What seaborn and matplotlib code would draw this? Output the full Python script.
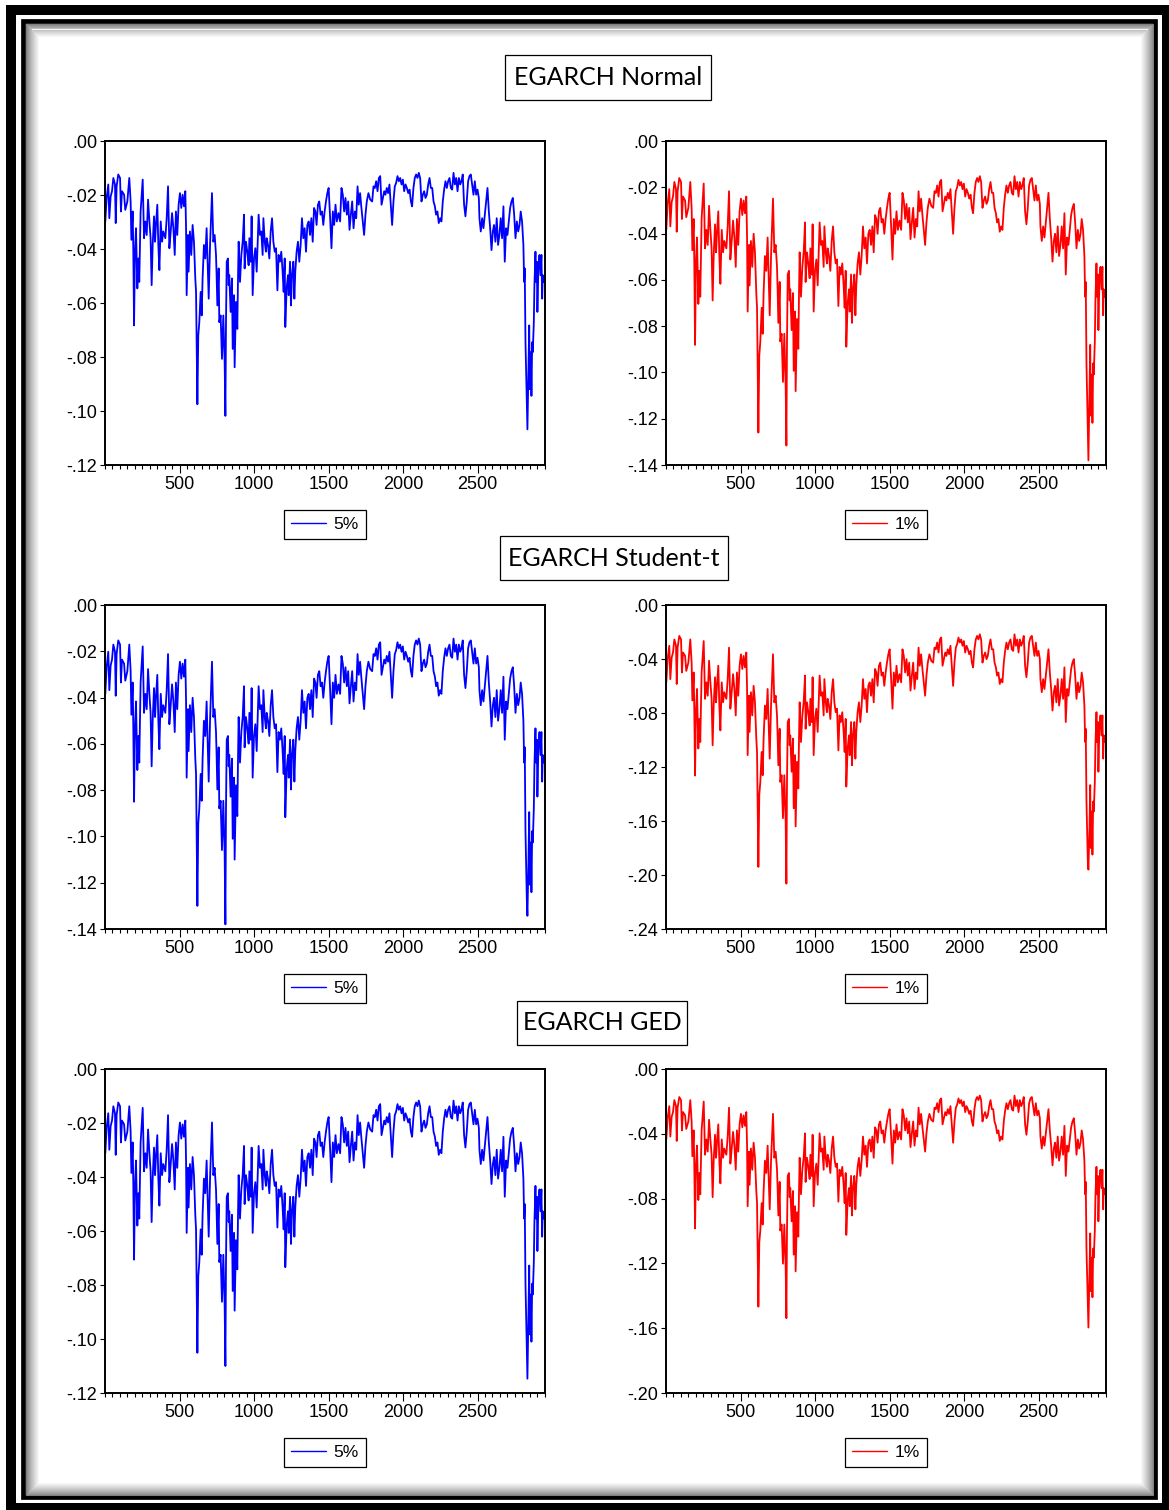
import numpy as np
import pandas as pd
import matplotlib
matplotlib.use("Agg")
import matplotlib.pyplot as plt
from matplotlib.patches import Rectangle
from matplotlib.ticker import FixedLocator, MultipleLocator, FuncFormatter
import seaborn as sns

# Observation index of each sampled point
obs = [
    2, 11, 22, 29, 38, 47, 56, 67, 72, 78,
    89, 101, 107, 114, 128, 136, 150, 163, 172, 177,
    186, 190, 195, 201, 208, 217, 224, 230, 239, 253,
    262, 271, 280, 289, 298, 306, 313, 320, 329, 336,
    342, 351, 358, 365, 374, 383, 391, 405, 414, 423,
    432, 441, 450, 459, 468, 476, 485, 494, 503, 512,
    521, 530, 539, 544, 548, 557, 561, 570, 579, 588,
    597, 606, 611, 615, 620, 626, 633, 642, 649, 655,
    664, 673, 682, 689, 696, 705, 718, 727, 736, 745,
    749, 754, 763, 767, 776, 785, 794, 803, 808, 812,
    817, 825, 830, 834, 843, 852, 857, 866, 870, 879,
    888, 893, 897, 906, 915, 924, 933, 937, 946, 955,
    964, 969, 978, 984, 991, 1000, 1009, 1018, 1027, 1031,
    1040, 1049, 1058, 1063, 1072, 1080, 1085, 1094, 1103, 1112,
    1121, 1130, 1139, 1148, 1157, 1165, 1174, 1183, 1192, 1199,
    1206, 1210, 1219, 1228, 1233, 1242, 1248, 1255, 1264, 1271,
    1277, 1286, 1295, 1304, 1313, 1322, 1331, 1340, 1349, 1358,
    1367, 1376, 1385, 1394, 1403, 1412, 1420, 1429, 1438, 1447,
    1456, 1465, 1474, 1483, 1492, 1501,
    1511, 1520, 1529, 1538, 1547, 1556, 1567, 1578, 1587, 1596,
    1605, 1614, 1623, 1632, 1641, 1650, 1659, 1668, 1677, 1686,
    1695, 1703, 1712, 1721, 1730, 1739, 1748, 1757, 1768, 1780,
    1793, 1802, 1811, 1820, 1829, 1838, 1847, 1856, 1865, 1874,
    1882, 1891, 1900, 1909, 1918, 1927, 1936, 1945, 1954, 1963,
    1972, 1981, 1990, 1999, 2008, 2017, 2026, 2035, 2044, 2053,
    2061, 2070, 2079, 2088, 2097, 2106, 2115, 2124, 2133, 2142,
    2151, 2160, 2169, 2178, 2187, 2196, 2205, 2214, 2222, 2231,
    2240, 2249, 2258, 2267, 2276, 2285, 2294, 2303, 2312, 2321,
    2330, 2339, 2348, 2357, 2366, 2375, 2384, 2392, 2401, 2410,
    2419, 2428, 2437, 2446, 2455, 2464, 2473, 2482, 2491, 2500,
    2509, 2513, 2522, 2531, 2540, 2549, 2558, 2567, 2576, 2585,
    2594, 2603, 2611, 2620, 2629, 2638, 2647, 2656, 2665, 2674,
    2683, 2692, 2701, 2710, 2719, 2728, 2737, 2746, 2755, 2764,
    2773, 2782, 2790, 2799, 2808, 2813, 2817, 2822, 2826, 2831,
    2835, 2842, 2847, 2851, 2858, 2862, 2867, 2871, 2878, 2882,
    2889, 2893, 2898, 2902, 2909, 2916, 2923, 2929, 2934, 2938,
    2945,
]

# Value-at-Risk forecasts, in basis points of return
normal_5 = [
    -298, -211, -161, -286, -205, -186, -137, -161, -304, -168,
    -124, -137, -261, -186, -199, -255, -224, -137, -224, -366,
    -261, -410, -683, -410, -323, -546, -435, -522, -261, -143,
    -360, -298, -348, -217, -298, -360, -534, -385, -279, -373,
    -311, -236, -385, -478, -298, -373, -335, -360, -286, -168,
    -397, -335, -267, -323, -422, -261, -348, -236, -193, -248,
    -199, -242, -186, -323, -571, -348, -484, -335, -422, -311,
    -373, -509, -559, -745, -975, -720, -671, -559, -646, -509,
    -385, -435, -323, -460, -584, -385, -193, -373, -348, -422,
    -497, -609, -472, -671, -646, -807, -646, -820, -1018, -671,
    -447, -435, -534, -497, -633, -509, -770, -571, -838, -596,
    -696, -497, -373, -522, -422, -373, -273, -472, -373, -410,
    -460, -360, -447, -279, -571, -435, -397, -484, -335, -273,
    -348, -335, -422, -286, -373, -410, -360, -385, -435, -335,
    -286, -373, -410, -397, -553, -422, -447, -410, -484, -559,
    -435, -689, -546, -497, -571, -447, -609, -497, -447, -584,
    -484, -410, -373, -447, -385, -286, -360, -323, -410, -311,
    -298, -348, -286, -373, -248, -261, -311, -236, -224, -273,
    -261, -311, -261, -224, -193, -174,
    -286, -397, -261, -311, -236, -298, -267, -298, -174, -199,
    -261, -211, -273, -224, -329, -273, -224, -323, -261, -286,
    -168, -236, -193, -248, -298, -348, -273, -224, -193, -217,
    -224, -168, -174, -149, -186, -137, -130, -236, -211, -186,
    -199, -174, -193, -161, -236, -311, -224, -168, -155, -130,
    -149, -137, -161, -143, -186, -161, -174, -193, -180, -224,
    -242, -174, -137, -124, -137, -118, -137, -224, -199, -186,
    -211, -199, -161, -137, -174, -174, -224, -242, -273, -261,
    -304, -286, -298, -224, -180, -149, -174, -149, -137, -174,
    -180, -118, -161, -137, -186, -137, -161, -149, -124, -236,
    -279, -224, -149, -130, -124, -161, -199, -149, -199, -180,
    -211, -286, -335, -286, -323, -273, -224, -174, -261, -323,
    -404, -335, -311, -373, -286, -385, -348, -286, -360, -242,
    -447, -323, -348, -298, -248, -224, -211, -273, -360, -298,
    -335, -311, -261, -298, -385, -522, -472, -745, -845, -969,
    -1068, -845, -683, -919, -782, -944, -745, -782, -671, -534,
    -410, -522, -447, -633, -460, -422, -497, -422, -584, -497,
    -522,
]

normal_1 = [
    -384, -272, -208, -369, -264, -240, -177, -208, -392, -217,
    -160, -177, -337, -240, -257, -329, -289, -177, -289, -472,
    -337, -529, -881, -529, -417, -704, -561, -673, -337, -184,
    -464, -384, -449, -280, -384, -464, -689, -497, -360, -481,
    -401, -304, -497, -617, -384, -481, -432, -464, -369, -217,
    -512, -432, -344, -417, -544, -337, -449, -304, -249, -320,
    -257, -312, -240, -417, -737, -449, -624, -432, -544, -401,
    -481, -657, -721, -961, -1260, -929, -866, -721, -833, -657,
    -497, -561, -417, -593, -753, -497, -249, -481, -449, -544,
    -641, -786, -609, -866, -833, -1041, -833, -1058, -1316, -866,
    -577, -561, -689, -641, -817, -657, -993, -737, -1081, -769,
    -898, -641, -481, -673, -544, -481, -352, -609, -481, -529,
    -593, -464, -577, -360, -737, -561, -512, -624, -432, -352,
    -449, -432, -544, -369, -481, -529, -464, -497, -561, -432,
    -369, -481, -529, -512, -713, -544, -577, -529, -624, -721,
    -561, -889, -704, -641, -737, -577, -786, -641, -577, -753,
    -624, -529, -481, -577, -497, -369, -464, -417, -529, -401,
    -384, -449, -369, -481, -320, -337, -401, -304, -289, -352,
    -337, -401, -337, -289, -249, -224,
    -369, -512, -337, -401, -304, -384, -344, -384, -224, -257,
    -337, -272, -352, -289, -424, -352, -289, -417, -337, -369,
    -217, -304, -249, -320, -384, -449, -352, -289, -249, -280,
    -289, -217, -224, -192, -240, -177, -168, -304, -272, -240,
    -257, -224, -249, -208, -304, -401, -289, -217, -200, -168,
    -192, -177, -208, -184, -240, -208, -224, -249, -232, -289,
    -312, -224, -177, -160, -177, -152, -177, -289, -257, -240,
    -272, -257, -208, -177, -224, -224, -289, -312, -352, -337,
    -392, -369, -384, -289, -232, -192, -224, -192, -177, -224,
    -232, -152, -208, -177, -240, -177, -208, -192, -160, -304,
    -360, -289, -192, -168, -160, -208, -257, -192, -257, -232,
    -272, -369, -432, -369, -417, -352, -289, -224, -337, -417,
    -521, -432, -401, -481, -369, -497, -449, -369, -464, -312,
    -577, -417, -449, -384, -320, -289, -272, -352, -464, -384,
    -432, -401, -337, -384, -497, -673, -609, -961, -1090, -1250,
    -1380, -1090, -881, -1186, -1009, -1218, -961, -1009, -866, -689,
    -529, -673, -577, -817, -593, -544, -641, -544, -753, -641,
    -673,
]

student_5 = [
    -384, -269, -202, -368, -261, -236, -171, -202, -392, -212,
    -153, -171, -335, -236, -253, -327, -286, -171, -286, -474,
    -335, -533, -850, -533, -417, -713, -566, -681, -335, -179,
    -466, -384, -450, -277, -384, -466, -697, -500, -359, -484,
    -401, -302, -500, -623, -384, -484, -433, -466, -368, -212,
    -515, -433, -343, -417, -549, -335, -450, -302, -245, -318,
    -253, -310, -236, -417, -746, -450, -631, -433, -549, -401,
    -484, -664, -730, -977, -1300, -944, -879, -730, -846, -664,
    -500, -566, -417, -599, -763, -500, -245, -484, -450, -549,
    -648, -797, -615, -879, -846, -1059, -846, -1076, -1380, -879,
    -582, -566, -697, -648, -828, -664, -1010, -746, -1100, -779,
    -912, -648, -484, -681, -549, -484, -351, -615, -484, -533,
    -599, -466, -582, -359, -746, -566, -515, -631, -433, -351,
    -450, -433, -549, -368, -484, -533, -466, -500, -566, -433,
    -368, -484, -533, -515, -722, -549, -582, -533, -631, -730,
    -566, -917, -713, -648, -746, -582, -797, -648, -582, -763,
    -631, -533, -484, -582, -500, -368, -466, -417, -533, -401,
    -384, -450, -368, -484, -318, -335, -401, -302, -286, -351,
    -335, -401, -335, -286, -245, -220,
    -368, -515, -335, -401, -302, -384, -343, -384, -220, -253,
    -335, -269, -351, -286, -425, -351, -286, -417, -335, -368,
    -212, -302, -245, -318, -384, -450, -351, -286, -245, -277,
    -286, -212, -220, -187, -236, -171, -161, -302, -269, -236,
    -253, -220, -245, -202, -302, -401, -286, -212, -195, -161,
    -187, -171, -202, -179, -236, -202, -220, -245, -228, -286,
    -310, -220, -171, -153, -171, -145, -171, -286, -253, -236,
    -269, -253, -202, -171, -220, -220, -286, -310, -351, -335,
    -392, -368, -384, -286, -228, -187, -220, -187, -171, -220,
    -228, -145, -202, -171, -236, -171, -202, -187, -153, -302,
    -359, -286, -187, -161, -153, -202, -253, -187, -253, -228,
    -269, -368, -433, -368, -417, -351, -286, -220, -335, -417,
    -525, -433, -401, -484, -368, -500, -450, -368, -466, -310,
    -582, -417, -450, -384, -318, -286, -269, -351, -466, -384,
    -433, -401, -335, -384, -500, -681, -615, -977, -1109, -1274,
    -1343, -1109, -895, -1208, -1026, -1241, -977, -1026, -879, -697,
    -533, -681, -582, -828, -599, -549, -648, -549, -763, -648,
    -681,
]

student_1 = [
    -573, -401, -302, -549, -389, -352, -255, -302, -585, -316,
    -229, -255, -500, -352, -377, -488, -427, -255, -427, -707,
    -500, -794, -1263, -794, -622, -1063, -844, -1015, -500, -267,
    -695, -573, -672, -413, -573, -695, -1039, -745, -535, -721,
    -599, -450, -745, -929, -573, -721, -646, -695, -549, -316,
    -768, -646, -512, -622, -818, -500, -672, -450, -365, -474,
    -377, -462, -352, -622, -1112, -672, -940, -646, -818, -599,
    -721, -990, -1089, -1456, -1940, -1407, -1310, -1089, -1261, -990,
    -745, -844, -622, -893, -1138, -745, -365, -721, -672, -818,
    -966, -1187, -917, -1310, -1261, -1579, -1261, -1604, -2064, -1310,
    -867, -844, -1039, -966, -1235, -990, -1506, -1112, -1640, -1162,
    -1359, -966, -721, -1015, -818, -721, -523, -917, -721, -794,
    -893, -695, -867, -535, -1112, -844, -768, -940, -646, -523,
    -672, -646, -818, -549, -721, -794, -695, -745, -844, -646,
    -549, -721, -794, -768, -1077, -818, -867, -794, -940, -1089,
    -844, -1345, -1063, -966, -1112, -867, -1187, -966, -867, -1138,
    -940, -794, -721, -867, -745, -549, -695, -622, -794, -599,
    -573, -672, -549, -721, -474, -500, -599, -450, -427, -523,
    -500, -599, -500, -427, -365, -328,
    -549, -768, -500, -599, -450, -573, -512, -573, -328, -377,
    -500, -401, -523, -427, -634, -523, -427, -622, -500, -549,
    -316, -450, -365, -474, -573, -672, -523, -427, -365, -413,
    -427, -316, -328, -278, -352, -255, -241, -450, -401, -352,
    -377, -328, -365, -302, -450, -599, -427, -316, -290, -241,
    -278, -255, -302, -267, -352, -302, -328, -365, -340, -427,
    -462, -328, -255, -229, -255, -217, -255, -427, -377, -352,
    -401, -377, -302, -255, -328, -328, -427, -462, -523, -500,
    -585, -549, -573, -427, -340, -278, -328, -278, -255, -328,
    -340, -217, -302, -255, -352, -255, -302, -278, -229, -450,
    -535, -427, -278, -241, -229, -302, -377, -278, -377, -340,
    -401, -549, -646, -549, -622, -523, -427, -328, -500, -622,
    -782, -646, -599, -721, -549, -745, -672, -549, -695, -462,
    -867, -622, -672, -573, -474, -427, -401, -523, -695, -573,
    -646, -599, -500, -573, -745, -1015, -917, -1456, -1654, -1899,
    -1960, -1654, -1334, -1800, -1529, -1849, -1456, -1529, -1310, -1039,
    -794, -1015, -867, -1235, -893, -818, -966, -818, -1138, -966,
    -1015,
]

ged_5 = [
    -312, -218, -164, -299, -211, -191, -138, -164, -318, -171,
    -124, -138, -272, -191, -205, -265, -232, -138, -232, -385,
    -272, -433, -706, -433, -339, -580, -460, -554, -272, -144,
    -379, -312, -366, -224, -312, -379, -567, -406, -291, -393,
    -326, -245, -406, -506, -312, -393, -352, -379, -299, -171,
    -419, -352, -278, -339, -446, -272, -366, -245, -198, -258,
    -205, -251, -191, -339, -607, -366, -513, -352, -446, -326,
    -393, -540, -594, -795, -1051, -768, -715, -594, -688, -540,
    -406, -460, -339, -487, -621, -406, -198, -393, -366, -446,
    -527, -648, -500, -715, -688, -862, -688, -876, -1100, -715,
    -473, -460, -567, -527, -674, -540, -822, -607, -895, -634,
    -742, -527, -393, -554, -446, -393, -285, -500, -393, -433,
    -487, -379, -473, -291, -607, -460, -419, -513, -352, -285,
    -366, -352, -446, -299, -393, -433, -379, -406, -460, -352,
    -299, -393, -433, -419, -587, -446, -473, -433, -513, -594,
    -460, -734, -580, -527, -607, -473, -648, -527, -473, -621,
    -513, -433, -393, -473, -406, -299, -379, -339, -433, -326,
    -312, -366, -299, -393, -258, -272, -326, -245, -232, -285,
    -272, -326, -272, -232, -198, -178,
    -299, -419, -272, -326, -245, -312, -278, -312, -178, -205,
    -272, -218, -285, -232, -345, -285, -232, -339, -272, -299,
    -171, -245, -198, -258, -312, -366, -285, -232, -198, -224,
    -232, -171, -178, -151, -191, -138, -130, -245, -218, -191,
    -205, -178, -198, -164, -245, -326, -232, -171, -157, -130,
    -151, -138, -164, -144, -191, -164, -178, -198, -184, -232,
    -251, -178, -138, -124, -138, -117, -138, -232, -205, -191,
    -218, -205, -164, -138, -178, -178, -232, -251, -285, -272,
    -318, -299, -312, -232, -184, -151, -178, -151, -138, -178,
    -184, -117, -164, -138, -191, -138, -164, -151, -124, -245,
    -291, -232, -151, -130, -124, -164, -205, -151, -205, -184,
    -218, -299, -352, -299, -339, -285, -232, -178, -272, -339,
    -426, -352, -326, -393, -299, -406, -366, -299, -379, -251,
    -473, -339, -366, -312, -258, -232, -218, -285, -379, -312,
    -352, -326, -272, -312, -406, -554, -500, -795, -903, -1037,
    -1147, -903, -728, -983, -835, -1010, -795, -835, -715, -567,
    -433, -554, -473, -674, -487, -446, -527, -446, -621, -527,
    -554,
]

ged_1 = [
    -435, -304, -229, -417, -295, -266, -192, -229, -444, -239,
    -173, -192, -379, -266, -286, -370, -324, -192, -324, -538,
    -379, -604, -984, -604, -473, -809, -642, -773, -379, -201,
    -529, -435, -510, -313, -435, -529, -791, -566, -406, -548,
    -455, -342, -566, -706, -435, -548, -491, -529, -417, -239,
    -584, -491, -388, -473, -622, -379, -510, -342, -277, -360,
    -286, -351, -266, -473, -847, -510, -715, -491, -622, -455,
    -548, -753, -828, -1109, -1467, -1071, -997, -828, -960, -753,
    -566, -642, -473, -679, -866, -566, -277, -548, -510, -622,
    -735, -904, -697, -997, -960, -1202, -960, -1222, -1538, -997,
    -660, -642, -791, -735, -940, -753, -1146, -847, -1249, -884,
    -1035, -735, -548, -773, -622, -548, -397, -697, -548, -604,
    -679, -529, -660, -406, -847, -642, -584, -715, -491, -397,
    -510, -491, -622, -417, -548, -604, -529, -566, -642, -491,
    -417, -548, -604, -584, -819, -622, -660, -604, -715, -828,
    -642, -1024, -809, -735, -847, -660, -904, -735, -660, -866,
    -715, -604, -548, -660, -566, -417, -529, -473, -604, -455,
    -435, -510, -417, -548, -360, -379, -455, -342, -324, -397,
    -379, -455, -379, -324, -277, -248,
    -417, -584, -379, -455, -342, -435, -388, -435, -248, -286,
    -379, -304, -397, -324, -482, -397, -324, -473, -379, -417,
    -239, -342, -277, -360, -435, -510, -397, -324, -277, -313,
    -324, -239, -248, -211, -266, -192, -182, -342, -304, -266,
    -286, -248, -277, -229, -342, -455, -324, -239, -220, -182,
    -211, -192, -229, -201, -266, -229, -248, -277, -257, -324,
    -351, -248, -192, -173, -192, -164, -192, -324, -286, -266,
    -304, -286, -229, -192, -248, -248, -324, -351, -397, -379,
    -444, -417, -435, -324, -257, -211, -248, -211, -192, -248,
    -257, -164, -229, -192, -266, -192, -229, -211, -173, -342,
    -406, -324, -211, -182, -173, -229, -286, -211, -286, -257,
    -304, -417, -491, -417, -473, -397, -324, -248, -379, -473,
    -595, -491, -455, -548, -417, -566, -510, -417, -529, -351,
    -660, -473, -510, -435, -360, -324, -304, -397, -529, -435,
    -491, -455, -379, -435, -566, -773, -697, -1109, -1259, -1446,
    -1596, -1259, -1015, -1371, -1164, -1409, -1109, -1164, -997, -791,
    -604, -773, -660, -940, -679, -622, -735, -622, -866, -735,
    -773,
]

group_titles = ["EGARCH Normal", "EGARCH Student-t", "EGARCH GED"]
level_labels = ["5%", "1%"]
series = [[normal_5, normal_1], [student_5, student_1], [ged_5, ged_1]]
y_floor = [[-0.12, -0.14], [-0.14, -0.24], [-0.12, -0.20]]
y_step = [[0.02, 0.02], [0.02, 0.04], [0.02, 0.04]]
x_ticks = [500, 1000, 1500, 2000, 2500]
colors = ["#0000ff", "#ff0000"]

W, H = 1169, 1510

sns.set_theme(style="white")
plt.rcParams["font.family"] = ["Liberation Sans", "DejaVu Sans"]
plt.rcParams.update({
    "text.color": "black", "axes.labelcolor": "black",
    "xtick.color": "black", "ytick.color": "black",
    "axes.edgecolor": "black",
})

fig = plt.figure(figsize=(W / 100, H / 100), dpi=100)
fig.patch.set_facecolor("white")


def fx(x):
    return x / W


def fy(y):
    return 1 - y / H


def frame_rect(x0, y0, x1, y1, **kw):
    fig.add_artist(Rectangle((fx(x0), fy(y1)), fx(x1) - fx(x0), fy(y0) - fy(y1),
                             transform=fig.transFigure, fill=False, **kw))


# page border: thick outer line, thinner inner line with a soft inner shadow
frame_rect(11, 10, 1167, 1508, lw=7.2, ec="black")
frame_rect(22.5, 21, 1155.5, 1497, lw=3.4, ec="black")
for i in range(14):
    g = 0.50 + 0.50 * (i / 13) ** 0.8
    frame_rect(25 + i + 0.5, 23 + i + 0.5, 1153 - i - 0.5, 1495 - i - 0.5,
               lw=0.75, ec=(g, g, g))


def dec_fmt(v, pos):
    s = f"{v:.2f}"
    if s in ("0.00", "-0.00"):
        return ".00"
    return s.replace("0.", ".", 1)


title_boxes = [(505, 55, 711, 100), (500, 536, 728, 580), (517, 1001, 687, 1045)]
row_tops = [141, 605, 1069]
col_lefts = [105, 666]
ax_w, ax_h = 440, 324

for r in range(3):
    bx0, by0, bx1, by1 = title_boxes[r]
    fig.add_artist(Rectangle((fx(bx0), fy(by1)), fx(bx1) - fx(bx0), fy(by0) - fy(by1),
                             transform=fig.transFigure, fill=True, fc="white",
                             ec="black", lw=0.9))
    fig.text(fx((bx0 + bx1) / 2), fy((by0 + by1) / 2), group_titles[r],
             ha="center", va="center", fontsize=18, family=["Lato", "DejaVu Sans"])

    for c in range(2):
        left, top = col_lefts[c], row_tops[r]
        ax = fig.add_axes([fx(left), fy(top + ax_h), ax_w / W, ax_h / H])
        df = pd.DataFrame({"obs": obs, "var": np.array(series[r][c]) / 1e4})
        sns.lineplot(data=df, x="obs", y="var", ax=ax, color=colors[c],
                     lw=1.3, label=level_labels[c], estimator=None)
        ax.set_xlim(0, 2953)
        ax.set_ylim(y_floor[r][c], 0)
        ax.set_xlabel("")
        ax.set_ylabel("")
        yt = np.round(np.arange(y_floor[r][c], 0.00001, y_step[r][c]), 2)
        ax.yaxis.set_major_locator(FixedLocator(yt))
        ax.yaxis.set_major_formatter(FuncFormatter(dec_fmt))
        ax.xaxis.set_major_locator(FixedLocator(x_ticks))
        ax.xaxis.set_minor_locator(MultipleLocator(50))
        ax.tick_params(axis="x", which="major", bottom=True, top=False, direction="out",
                       length=5.8, width=0.8, labelsize=13, pad=2)
        ax.tick_params(axis="x", which="minor", bottom=True, top=False, direction="out",
                       length=2.9, width=0.8)
        ax.tick_params(axis="y", which="major", left=True, right=False, direction="out",
                       length=3.6, width=0.8, labelsize=13, pad=2)
        for sp in ax.spines.values():
            sp.set_visible(True)
            sp.set_color("black")
            sp.set_linewidth(1.4)
        leg = ax.legend(loc="upper center", bbox_to_anchor=(0.5, -0.139), frameon=True,
                        fancybox=False, edgecolor="black", framealpha=1, fontsize=12.5,
                        handlelength=2.0, handletextpad=0.45, borderpad=0.4,
                        borderaxespad=0)
        leg.get_frame().set_linewidth(0.9)
        leg.get_lines()[0].set_linewidth(1.0)

fig.savefig("out.png", dpi=100, facecolor="white")
